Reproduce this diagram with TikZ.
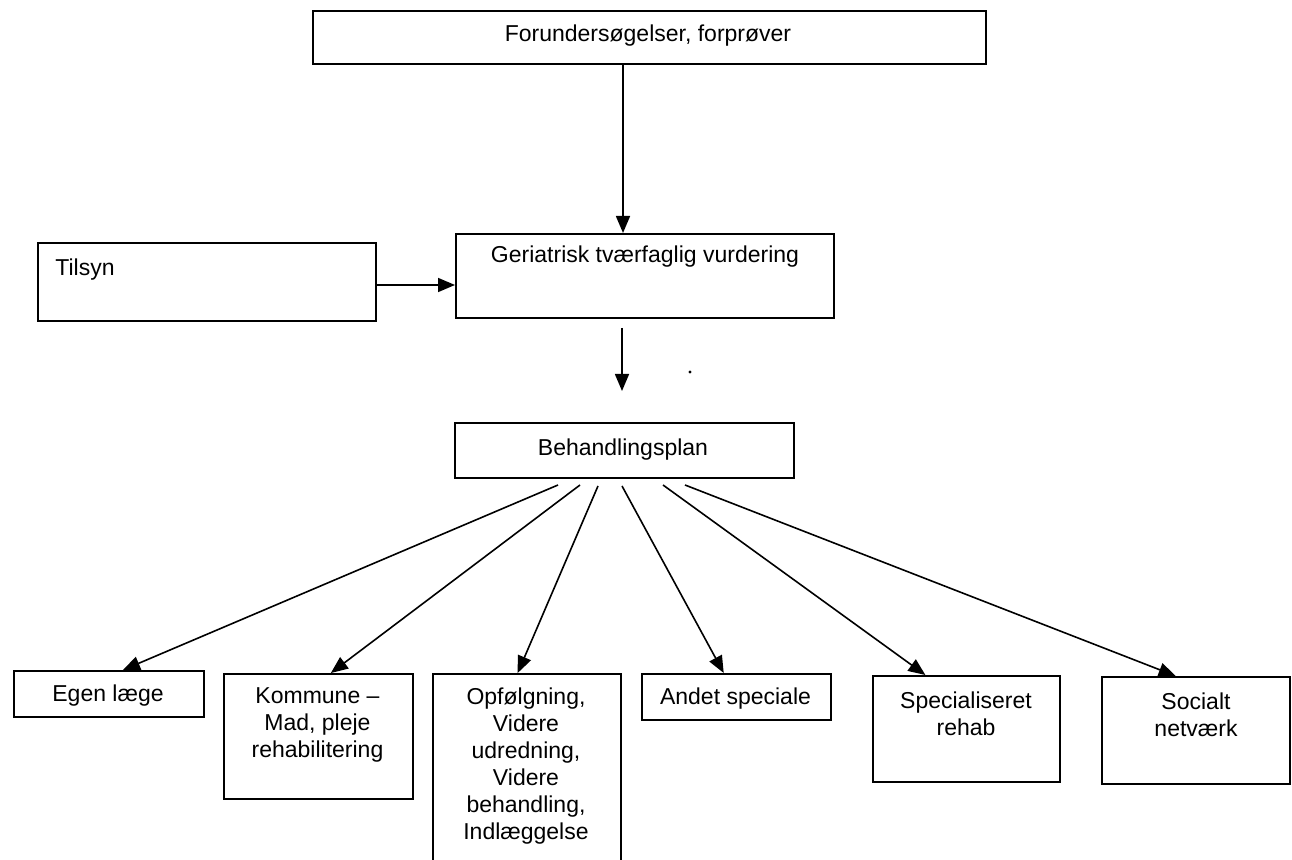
\documentclass[tikz,border=0pt]{standalone}
\usepackage{fontspec}
\setmainfont{Liberation Sans}
\usetikzlibrary{arrows.meta,calc}
\begin{document}
\begin{tikzpicture}[x=0.5pt,y=-0.5pt,
  box/.style={draw, line width=0.8pt, rectangle, inner sep=0pt, anchor=north west},
  txt/.style={inner sep=0pt, font=\fontsize{11.5pt}{13.5pt}\selectfont, align=center},
  arr/.style={line width=0.8pt, -{Triangle[length=8.5pt,width=7pt]}}]
\clip (0,0) rectangle (1292,860);
\fill[white] (0,0) rectangle (1292,860);
% boxes
\node[box, minimum width=336.5pt, minimum height=26.5pt] (top) at (312,10) {};
\node[box, minimum width=169pt, minimum height=39pt] (tilsyn) at (37,242) {};
\node[box, minimum width=189pt, minimum height=42pt] (ger) at (455,233) {};
\node[box, minimum width=169.5pt, minimum height=27.5pt] (beh) at (454,422) {};
\node[box, minimum width=95pt, minimum height=23pt] (egen) at (13,670) {};
\node[box, minimum width=94.5pt, minimum height=62.5pt] (kom) at (223,673) {};
\node[box, minimum width=94pt, minimum height=110pt] (opf) at (432,673) {};
\node[box, minimum width=94.5pt, minimum height=23pt] (andet) at (641,673) {};
\node[box, minimum width=93.5pt, minimum height=53pt] (spec) at (872,675) {};
\node[box, minimum width=94pt, minimum height=53.5pt] (soc) at (1101,676) {};
% texts
\node[txt, anchor=base] (toptxt) at (648,42) {Forundersøgelser, forprøver};
\node[txt, anchor=base west] (tiltxt) at (55,276) {Tilsyn};
\node[txt, anchor=base] (gertxt) at (645,263) {Geriatrisk tværfaglig vurdering};
\node[txt, anchor=base] (behtxt) at (623,456) {Behandlingsplan};
\node[txt, anchor=base] (egentxt) at (108,702) {Egen læge};
\node[txt, anchor=north] (komtxt) at (317.5,687) {Kommune –\\Mad, pleje\\rehabilitering};
\node[txt, anchor=north] (opftxt) at (526,687) {Opfølgning,\\Videre\\udredning,\\Videre\\behandling,\\Indlæggelse};
\node[txt, anchor=base] (andtxt) at (735.5,705) {Andet speciale};
\node[txt, anchor=north] (spectxt) at (966,691) {Specialiseret\\rehab};
\node[txt, anchor=north] (soctxt) at (1196,692) {Socialt\\netværk};
% connectors
\coordinate (colx) at (623,0);
\draw[arr] (top.south -| colx) -- (ger.north -| colx);
\coordinate (ty) at (0,285);
\draw[arr] (tilsyn.east |- ty) -- (ger.west |- ty);
\coordinate (gb1) at (622,328);
\coordinate (gb2) at (622,391);
\draw[arr] (gb1) -- (gb2);
\node[circle, fill, inner sep=0pt, minimum size=1.6pt] (dot) at (690,372) {};
\coordinate (f1) at (558,485);
\coordinate (f2) at (580,485);
\coordinate (f3) at (598,486);
\coordinate (f4) at (622,486);
\coordinate (f5) at (663,485);
\coordinate (f6) at (685,485);
\draw[arr] (f1) -- ($(egen.north west)!0.574!(egen.north east)$);
\draw[arr] (f2) -- ($(kom.north west)!0.566!(kom.north east)$);
\draw[arr] (f3) -- ($(opf.north west)!0.452!(opf.north east)$);
\draw[arr] (f4) -- ($(andet.north west)!0.434!(andet.north east)$);
\draw[arr] (f5) -- ($(spec.north west)!0.283!(spec.north east)$);
\draw[arr] (f6) -- ($(soc.north west)!0.394!(soc.north east)$);
\end{tikzpicture}
\end{document}
